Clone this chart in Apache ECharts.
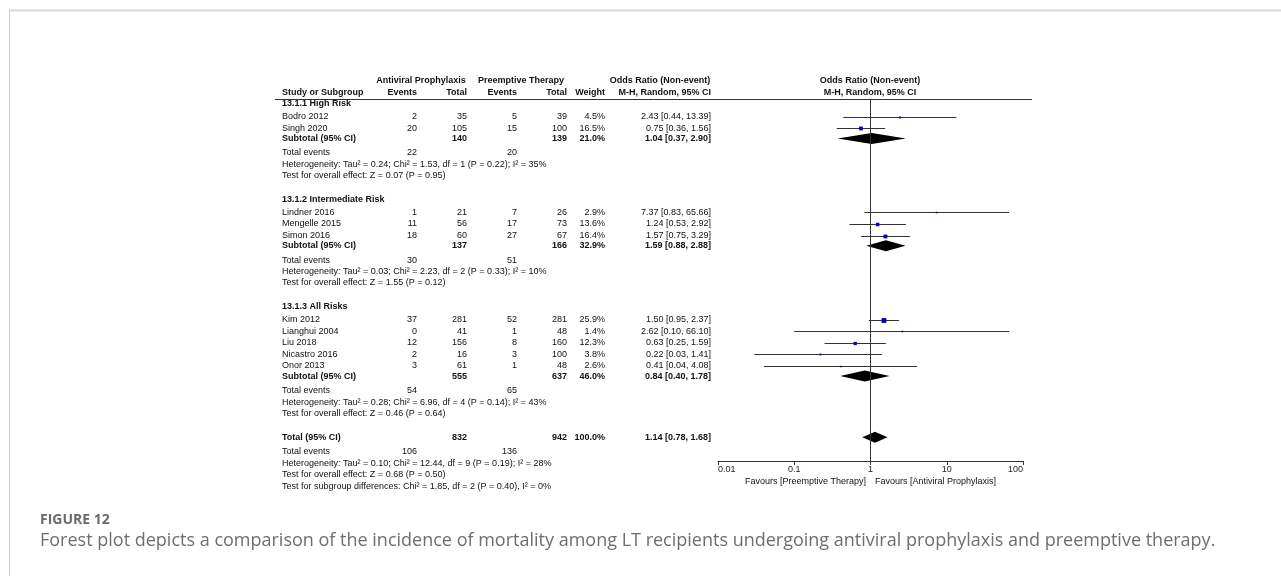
<!DOCTYPE html>
<html><head><meta charset="utf-8">
<script src="https://cdn.jsdelivr.net/npm/echarts@6/dist/echarts.min.js"></script>
<style>html,body{margin:0;padding:0;background:#fff}#c{width:1281px;height:576px}</style>
</head><body><div id="c"></div>
<script>
// ---------------- DATA ----------------
const groupNames = ['13.1.1 High Risk', '13.1.2 Intermediate Risk', '13.1.3 All Risks'];
const studyNames = [['Bodro 2012', 'Singh 2020'], ['Lindner 2016', 'Mengelle 2015', 'Simon 2016'], ['Kim 2012', 'Lianghui 2004', 'Liu 2018', 'Nicastro 2016', 'Onor 2013']];
const apEvents = [[2, 20], [1, 11, 18], [37, 0, 12, 2, 3]];
const apTotal = [[35, 105], [21, 56, 60], [281, 41, 156, 16, 61]];
const ptEvents = [[5, 15], [7, 17, 27], [52, 1, 8, 3, 1]];
const ptTotal = [[39, 100], [26, 73, 67], [281, 48, 160, 100, 48]];
const weights = [[4.5, 16.5], [2.9, 13.6, 16.4], [25.9, 1.4, 12.3, 3.8, 2.6]];
const orValues = [[2.43, 0.75], [7.37, 1.24, 1.57], [1.50, 2.62, 0.63, 0.22, 0.41]];
const ciLower = [[0.44, 0.36], [0.83, 0.53, 0.75], [0.95, 0.10, 0.25, 0.03, 0.04]];
const ciUpper = [[13.39, 1.56], [65.66, 2.92, 3.29], [2.37, 66.10, 1.59, 1.41, 4.08]];
const subApTotal = [140, 137, 555];
const subPtTotal = [139, 166, 637];
const subWeight = [21.0, 32.9, 46.0];
const subOR = [1.04, 1.59, 0.84];
const subLower = [0.37, 0.88, 0.40];
const subUpper = [2.90, 2.88, 1.78];
const subApEvents = [22, 30, 54];
const subPtEvents = [20, 51, 65];
const subHeterogeneity = [
  'Heterogeneity: Tau\u00b2 = 0.24; Chi\u00b2 = 1.53, df = 1 (P = 0.22); I\u00b2 = 35%',
  'Heterogeneity: Tau\u00b2 = 0.03; Chi\u00b2 = 2.23, df = 2 (P = 0.33); I\u00b2 = 10%',
  'Heterogeneity: Tau\u00b2 = 0.28; Chi\u00b2 = 6.96, df = 4 (P = 0.14); I\u00b2 = 43%'
];
const subOverall = [
  'Test for overall effect: Z = 0.07 (P = 0.95)',
  'Test for overall effect: Z = 1.55 (P = 0.12)',
  'Test for overall effect: Z = 0.46 (P = 0.64)'
];
const totalApTotal = 832, totalPtTotal = 942, totalWeight = 100.0;
const totalOR = 1.14, totalLower = 0.78, totalUpper = 1.68;
const totalApEvents = 106, totalPtEvents = 136;
const totalHeterogeneity = 'Heterogeneity: Tau\u00b2 = 0.10; Chi\u00b2 = 12.44, df = 9 (P = 0.19); I\u00b2 = 28%';
const totalOverall = 'Test for overall effect: Z = 0.68 (P = 0.50)';
const subgroupDiff = 'Test for subgroup differences: Chi\u00b2 = 1.85, df = 2 (P = 0.40), I\u00b2 = 0%';
const tickValues = [0.01, 0.1, 1, 10, 100];
const tickLabels = ['0.01', '0.1', '1', '10', '100'];
const headerGroup = ['Antiviral Prophylaxis', 'Preemptive Therapy', 'Odds Ratio (Non-event)'];
const headerCols = ['Study or Subgroup', 'Events', 'Total', 'Events', 'Total', 'Weight', 'M-H, Random, 95% CI'];
const plotHeader = ['Odds Ratio (Non-event)', 'M-H, Random, 95% CI'];
const favourLabels = ['Favours [Preemptive Therapy]', 'Favours [Antiviral Prophylaxis]'];
const figureLabel = 'FIGURE 12';
const captionText = 'Forest plot depicts a comparison of the incidence of mortality among LT recipients undergoing antiviral prophylaxis and preemptive therapy.';

// ---------------- LAYOUT ----------------
const PITCH = 11.6, ORIGIN = 104;           // pixel per row unit, pixel of row 0
const COL = {study: 282, apE: 417, apT: 467, ptE: 517, ptT: 567, w: 605, ci: 711};
const FONT = '"Liberation Sans", Arial, sans-serif';
const FS = 9;
const fmtCI = (o, l, u) => o.toFixed(2) + ' [' + l.toFixed(2) + ', ' + u.toFixed(2) + ']';
const fmtW = w => w.toFixed(1) + '%';

const textRows = [];   // {y, cells:[{x,text,align,bold}]}
const studyPts = [];   // [or, lo, hi, y, w]
const diamonds = [];   // [or, lo, hi, y]
const L = (x, text, bold) => ({x, text: String(text), align: 'left', bold: !!bold});
const R = (x, text, bold) => ({x, text: String(text), align: 'right', bold: !!bold});
const C = (x, text, bold) => ({x, text: String(text), align: 'center', bold: !!bold});

textRows.push({y: -2.0, cells: [C(421, headerGroup[0], 1), C(521, headerGroup[1], 1), C(660, headerGroup[2], 1), C(870, plotHeader[0], 1)]});
textRows.push({y: -1.0, cells: [L(COL.study, headerCols[0], 1), R(COL.apE, headerCols[1], 1), R(COL.apT, headerCols[2], 1), R(COL.ptE, headerCols[3], 1), R(COL.ptT, headerCols[4], 1), R(COL.w, headerCols[5], 1), R(COL.ci, headerCols[6], 1), C(870, plotHeader[1], 1)]});

let r = 0;
groupNames.forEach((g, gi) => {
  textRows.push({y: r, cells: [L(COL.study, g, 1)]});
  r += 0.1;
  studyNames[gi].forEach((s, si) => {
    r += 1.0;
    textRows.push({y: r, cells: [L(COL.study, s), R(COL.apE, apEvents[gi][si]), R(COL.apT, apTotal[gi][si]), R(COL.ptE, ptEvents[gi][si]), R(COL.ptT, ptTotal[gi][si]), R(COL.w, fmtW(weights[gi][si])), R(COL.ci, fmtCI(orValues[gi][si], ciLower[gi][si], ciUpper[gi][si]))]});
    studyPts.push([orValues[gi][si], ciLower[gi][si], ciUpper[gi][si], r, weights[gi][si]]);
  });
  r += 0.87;
  textRows.push({y: r, cells: [L(COL.study, 'Subtotal (95% CI)', 1), R(COL.apT, subApTotal[gi], 1), R(COL.ptT, subPtTotal[gi], 1), R(COL.w, fmtW(subWeight[gi]), 1), R(COL.ci, fmtCI(subOR[gi], subLower[gi], subUpper[gi]), 1)]});
  diamonds.push([subOR[gi], subLower[gi], subUpper[gi], r]);
  r += 1.25;
  textRows.push({y: r, cells: [L(COL.study, 'Total events'), R(COL.apE, subApEvents[gi]), R(COL.ptE, subPtEvents[gi])]});
  r += 1.0;
  textRows.push({y: r, cells: [L(COL.study, subHeterogeneity[gi])]});
  r += 0.97;
  textRows.push({y: r, cells: [L(COL.study, subOverall[gi])]});
  r += 2.05;
});
textRows.push({y: r, cells: [L(COL.study, 'Total (95% CI)', 1), R(COL.apT, totalApTotal, 1), R(COL.ptT, totalPtTotal, 1), R(COL.w, fmtW(totalWeight), 1), R(COL.ci, fmtCI(totalOR, totalLower, totalUpper), 1)]});
diamonds.push([totalOR, totalLower, totalUpper, r]);
r += 1.25;
textRows.push({y: r, cells: [L(COL.study, 'Total events'), R(COL.apE, totalApEvents), R(COL.ptE, totalPtEvents)]});
r += 1.0;
textRows.push({y: r, cells: [L(COL.study, totalHeterogeneity)]});
r += 0.97;
textRows.push({y: r, cells: [L(COL.study, totalOverall)]});
r += 1.0;
textRows.push({y: r, cells: [L(COL.study, subgroupDiff)]});
textRows.push({y: 32.55, cells: [R(866, favourLabels[0]), L(875, favourLabels[1])]});

const T_MIN = -2.5, T_MAX = 33.5;          // table grid rows
const P_MIN = -0.43, P_MAX = 30.78;        // plot grid rows
const RULE_ROW = -0.43;

const chart = echarts.init(document.getElementById('c'), null, {renderer: 'canvas'});
chart.setOption({
  animation: false,
  backgroundColor: '#fff',
  grid: [
    {left: 0, width: 1281, top: ORIGIN + T_MIN * PITCH, height: (T_MAX - T_MIN) * PITCH},
    {left: 718, width: 305, top: ORIGIN + P_MIN * PITCH, height: (P_MAX - P_MIN) * PITCH}
  ],
  xAxis: [
    {gridIndex: 0, type: 'value', min: 0, max: 1281, show: false},
    {gridIndex: 1, type: 'log', logBase: 10, min: 0.01, max: 100,
      axisLine: {show: true, onZero: false, lineStyle: {color: '#333', width: 1}},
      axisTick: {show: true, length: 4, lineStyle: {color: '#333'}},
      splitLine: {show: false},
      axisLabel: {show: true, margin: 4, color: '#222', fontSize: FS, fontFamily: FONT,
        alignMinLabel: 'left', alignMaxLabel: 'right',
        formatter: v => {
          let best = 0;
          tickValues.forEach((t, i) => { if (Math.abs(Math.log10(t) - Math.log10(v)) < Math.abs(Math.log10(tickValues[best]) - Math.log10(v))) best = i; });
          return tickLabels[best];
        }}
    }
  ],
  yAxis: [
    {gridIndex: 0, type: 'value', inverse: true, min: T_MIN, max: T_MAX, show: false},
    {gridIndex: 1, type: 'value', inverse: true, min: P_MIN, max: P_MAX, show: false}
  ],
  graphic: [
    {type: 'line', shape: {x1: 9, y1: 10.5, x2: 1281, y2: 10.5}, style: {stroke: '#d8d8d8', lineWidth: 2}, silent: true},
    {type: 'line', shape: {x1: 9.5, y1: 10, x2: 9.5, y2: 576}, style: {stroke: '#cfcfcf', lineWidth: 1}, silent: true},
    {type: 'text', x: 40, y: 520, style: {text: figureLabel, font: 'bold 14px "Open Sans", sans-serif', fill: '#6a6a6a', verticalAlign: 'middle'}, silent: true},
    {type: 'text', x: 40, y: 541, style: {text: captionText, font: '18px "Open Sans", sans-serif', fill: '#6e6e6e', verticalAlign: 'middle'}, silent: true}
  ],
  series: [
    { // header rule
      type: 'custom', xAxisIndex: 0, yAxisIndex: 0, silent: true, clip: false,
      data: [[275, 1032, RULE_ROW]],
      encode: {x: 0, y: 2},
      renderItem: (params, api) => {
        const a = api.coord([api.value(0), api.value(2)]);
        const b = api.coord([api.value(1), api.value(2)]);
        const y = Math.round(a[1]) + 0.5;
        return {type: 'line', shape: {x1: a[0], y1: y, x2: b[0], y2: y}, style: {stroke: '#333', lineWidth: 1}};
      }
    },
    { // table text
      type: 'custom', xAxisIndex: 0, yAxisIndex: 0, silent: true, clip: false,
      data: textRows.map(t => [0, t.y]),
      renderItem: (params, api) => {
        const row = textRows[params.dataIndex];
        return {type: 'group', children: row.cells.map(c => {
          const p = api.coord([c.x, api.value(1)]);
          return {type: 'text', x: p[0], y: p[1], style: {text: c.text, align: c.align, verticalAlign: 'middle', font: (c.bold ? 'bold ' : '') + FS + 'px ' + FONT, fill: '#111'}};
        })};
      }
    },
    { // study CIs + squares
      type: 'custom', xAxisIndex: 1, yAxisIndex: 1, silent: true, clip: false,
      data: studyPts, encode: {x: 0, y: 3},
      renderItem: (params, api) => {
        const o = api.value(0), lo = api.value(1), hi = api.value(2), y = api.value(3), w = api.value(4);
        const pl = api.coord([lo, y]), ph = api.coord([hi, y]), pc = api.coord([o, y]);
        const yy = Math.round(pc[1]) + 0.5;
        const s = Math.max(1.6, Math.sqrt(w) * 0.95);
        return {type: 'group', children: [
          {type: 'line', shape: {x1: pl[0], y1: yy, x2: ph[0], y2: yy}, style: {stroke: '#333', lineWidth: 1}},
          {type: 'rect', shape: {x: pc[0] - s / 2, y: yy - s / 2, width: s, height: s}, style: {fill: '#0000c8'}}
        ]};
      }
    },
    { // diamonds
      type: 'custom', xAxisIndex: 1, yAxisIndex: 1, silent: true, clip: false,
      data: diamonds, encode: {x: 0, y: 3},
      renderItem: (params, api) => {
        const o = api.value(0), lo = api.value(1), hi = api.value(2), y = api.value(3);
        const pl = api.coord([lo, y]), ph = api.coord([hi, y]), pc = api.coord([o, y]);
        const h = 5.5;
        return {type: 'polygon', shape: {points: [[pl[0], pc[1]], [pc[0], pc[1] - h], [ph[0], pc[1]], [pc[0], pc[1] + h]]}, style: {fill: '#000'}};
      },
      markLine: {silent: true, symbol: 'none', label: {show: false}, lineStyle: {color: '#333', width: 1, type: 'solid'}, data: [{xAxis: 1}]}
    }
  ]
});
</script></body></html>
